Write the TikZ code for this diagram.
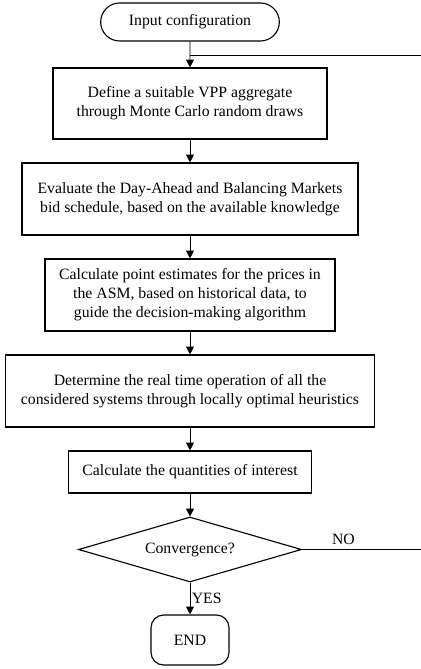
\documentclass[tikz,border=0pt]{standalone}
\usepackage{fontspec}
\setmainfont{Liberation Serif}
\usetikzlibrary{shapes.geometric,shapes.misc,arrows.meta}

\tikzset{
  stepbox/.style = {draw, rectangle, line width=0.8pt, align=center, inner sep=2pt},
  terminal/.style = {draw, rounded rectangle, line width=0.8pt, align=center},
  decision/.style = {draw, diamond, line width=0.8pt, inner sep=0pt, aspect=3.4},
  flow/.style = {line width=0.6pt, -{Triangle[length=5.5pt,width=5.5pt]}},
}

\begin{document}
\begin{tikzpicture}[x=0.025cm, y=-0.025cm, font=\fontsize{11.2}{13.5}\selectfont]
  \useasboundingbox (0,0) rectangle (420,669);
  % start of the procedure
  \node[terminal, minimum width=4.7cm, minimum height=0.95cm] (input) at (190,22) {Input configuration};
  % steps of one iteration
  \node[stepbox, minimum width=6.85cm, minimum height=1.775cm] (vpp) at (190,103.5)
    {Define a suitable VPP aggregate\\through Monte Carlo random draws};
  \node[stepbox, minimum width=8.4cm, minimum height=1.8cm] (bid) at (190,199)
    {Evaluate the Day-Ahead and Balancing Markets\\bid schedule, based on the available knowledge};
  \node[stepbox, minimum width=7.25cm, minimum height=1.8cm] (asm) at (190,295)
    {Calculate point estimates for the prices in\\the ASM, based on historical data, to\\guide the decision-making algorithm};
  \node[stepbox, minimum width=9.225cm, minimum height=1.8cm] (rt) at (190,391)
    {Determine the real time operation of all the\\considered systems through locally optimal heuristics};
  \node[stepbox, minimum width=6.075cm, minimum height=1.05cm] (qoi) at (190,472)
    {Calculate the quantities of interest};
  % convergence check
  \node[decision, minimum width=5.575cm, minimum height=1.625cm] (conv) at (190,549.5) {Convergence?};
  % end of the procedure
  \node[draw, rectangle, line width=0.8pt, rounded corners=9pt, minimum width=1.95cm, minimum height=1.25cm] (stop) at (190,640) {END};
  % main flow
  \draw[flow] (input) -- (vpp);
  \draw[flow] (vpp) -- (bid);
  \draw[flow] (bid) -- (asm);
  \draw[flow] (asm) -- (rt);
  \draw[flow] (rt) -- (qoi);
  \draw[flow] (qoi) -- (conv);
  \draw[flow] (conv) -- node[right, inner sep=1pt] (yes) {YES} (stop);
  % loop back when not converged
  \coordinate (loopbot) at (440,549.5);
  \coordinate (looptop) at (440,55);
  \coordinate (join) at (190,55);
  \draw[line width=0.6pt] (conv.east) -- node[above, pos=0.3] (no) {NO} (loopbot) -- (looptop) -- (join);
\end{tikzpicture}
\end{document}
